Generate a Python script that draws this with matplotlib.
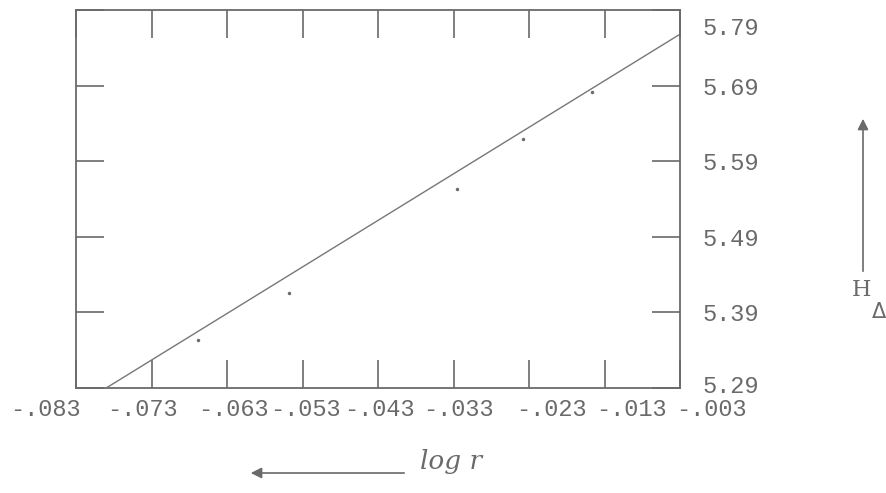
import matplotlib
matplotlib.use("Agg")
from matplotlib import pyplot as plt
from matplotlib.transforms import ScaledTranslation

# log r tick values and H_delta tick values
x_ticks = [-0.083, -0.073, -0.063, -0.053, -0.043, -0.033, -0.023, -0.013, -0.003]
x_labels = ["-.083", "-.073", "-.063", "-.053", "-.043", "-.033", "-.023", "-.013", "-.003"]
y_ticks = [5.29, 5.39, 5.49, 5.59, 5.69, 5.79]
y_labels = ["5.29", "5.39", "5.49", "5.59", "5.69", "5.79"]

# fitted straight line (end points)
fit_x = [-0.079, -0.003]
fit_y = [5.29, 5.758]

# measured points
pts_x = [-0.0668, -0.0548, -0.0325, -0.0238, -0.0147]
pts_y = [5.353, 5.416, 5.553, 5.620, 5.682]

ink = "#6a6a6a"
mono = ["Liberation Mono", "DejaVu Sans Mono"]

fig = plt.figure(figsize=(8.87, 4.93), dpi=100)
ax = fig.add_axes([76 / 887, 105 / 493, 604 / 887, 378 / 493])

ax.plot(fit_x, fit_y, color="#777777", lw=1.0)
ax.plot(pts_x, pts_y, "o", color=ink, ms=2.5, mec="none")

ax.set_xlim(-0.083, -0.003)
ax.set_ylim(5.29, 5.79)

for s in ax.spines.values():
    s.set_color(ink)
    s.set_linewidth(1.3)

ax.set_xticks(x_ticks)
ax.set_xticklabels(x_labels, fontfamily=mono, fontsize=17, color=ink)
ax.set_yticks(y_ticks)
ax.set_yticklabels(y_labels, fontfamily=mono, fontsize=17, color=ink)

ax.tick_params(axis="both", direction="in", length=20, width=1.2, color=ink)
ax.tick_params(axis="x", top=True, bottom=True, pad=7)
ax.tick_params(axis="y", left=True, right=True, labelleft=False, labelright=True, pad=16)

# the typed labels sit a little off their ticks (pixels)
x_shift = [-31, -9, 6, 3, 1, 5, 22, 27, 31]
for lab, dx in zip(ax.get_xticklabels(), x_shift):
    lab.set_transform(lab.get_transform() + ScaledTranslation(dx / 100, 0, fig.dpi_scale_trans))
y_shift = [4, 0, 0, 0, 0, -16]
for lab, dy in zip(ax.get_yticklabels(), y_shift):
    lab.set_transform(lab.get_transform() + ScaledTranslation(0, dy / 100, fig.dpi_scale_trans))

# H_delta label with upward arrow
fig.text(862 / 887, 1 - 290 / 493, "H", fontfamily=["DejaVu Serif"], fontsize=16,
         color=ink, ha="center", va="center")
fig.text(879 / 887, 1 - 312 / 493, "\u0394", fontfamily=["DejaVu Sans"], fontsize=15,
         color=ink, ha="center", va="center")
fig.add_artist(matplotlib.patches.FancyArrowPatch(
    (863 / 887, 1 - 274 / 493), (863 / 887, 1 - 116 / 493),
    transform=fig.transFigure, arrowstyle="-|>", mutation_scale=16,
    color=ink, lw=1.2))

# log r label with leftward arrow
fig.add_artist(matplotlib.patches.FancyArrowPatch(
    (407 / 887, 1 - 473 / 493), (248 / 887, 1 - 473 / 493),
    transform=fig.transFigure, arrowstyle="-|>", mutation_scale=16,
    color=ink, lw=1.2))
fig.text(420 / 887, 1 - 462 / 493, "log r", fontfamily=["DejaVu Serif"],
         fontstyle="italic", fontsize=19, color=ink, ha="left", va="center")

fig.savefig("out.png", dpi=100)
